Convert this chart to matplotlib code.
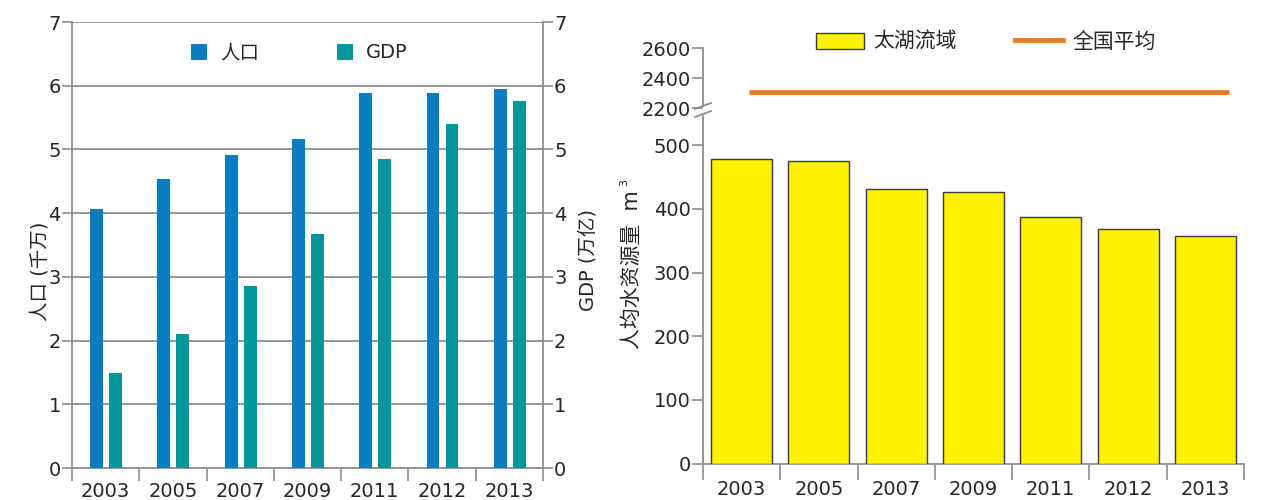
import matplotlib
matplotlib.use("Agg")
import matplotlib.pyplot as plt
import numpy as np
from matplotlib.lines import Line2D
from matplotlib.patches import Patch

plt.rcParams["font.family"] = ["DejaVu Sans", "Noto Sans CJK SC"]

W, H = 1266, 500

BLUE = "#0a7cc2"
TEAL = "#00969c"
YELLOW = "#fff200"
ORANGE = "#ee7b1c"
GRAY = "#8e8e8e"
INK = "#262626"

# data
years = ["2003", "2005", "2007", "2009", "2011", "2012", "2013"]
population = [4.07, 4.54, 4.91, 5.16, 5.89, 5.89, 5.95]      # 千万
gdp = [1.49, 2.10, 2.86, 3.67, 4.85, 5.40, 5.76]             # 万亿
taihu_water = [478, 475, 432, 426, 388, 369, 357]            # m3 per person
national_water = 2310


def box(left, top, right, bottom):
    return [left / W, 1 - bottom / H, (right - left) / W, (bottom - top) / H]


def category_axis(ax, n, labels, tick_len, pad):
    ax.set_xlim(-0.5, n - 0.5)
    ax.set_xticks(np.arange(-0.5, n, 1))
    ax.tick_params(axis="x", which="major", length=tick_len, width=1.2,
                   color=GRAY, labelbottom=False)
    ax.set_xticks(np.arange(n), minor=True)
    ax.set_xticklabels(labels, minor=True)
    ax.tick_params(axis="x", which="minor", length=0, pad=pad,
                   labelsize=14, labelcolor=INK)


fig = plt.figure(figsize=(W / 100, H / 100), dpi=100)
x = np.arange(len(years))

# left: population and GDP
ax1 = fig.add_axes(box(72, 22, 543, 468))
ax1.bar(x - 0.135, population, 0.19, color=BLUE, zorder=3)
ax1.set_ylim(0, 7)
ax1.set_yticks(range(8))
ax1.grid(axis="y", color=GRAY, linewidth=1.3)
ax1.set_axisbelow(True)
category_axis(ax1, len(years), years, 9.5, 10)
ax1.tick_params(axis="y", length=7, width=1.2, color=GRAY, pad=1,
                labelsize=14, labelcolor=INK)
ax1.spines["top"].set_visible(False)
for side in ["left", "right", "bottom"]:
    ax1.spines[side].set_color(GRAY)
    ax1.spines[side].set_linewidth(1.3)

ax2 = ax1.twinx()
ax2.bar(x + 0.148, gdp, 0.19, color=TEAL, zorder=3)
ax2.set_ylim(0, 7)
ax2.set_yticks(range(8))
ax2.tick_params(axis="y", length=7, width=1.2, color=GRAY, pad=1,
                labelsize=14, labelcolor=INK)
for spine in ax2.spines.values():
    spine.set_visible(False)

fig.text(40 / W, 1 - 271 / H, "人口 (千万)", rotation=90, ha="center",
         va="center", fontsize=14, color=INK)
fig.text(588 / W, 1 - 260 / H, "GDP (万亿)", rotation=90, ha="center",
         va="center", fontsize=14, color=INK)

fig.legend([Patch(facecolor=BLUE), Patch(facecolor=TEAL)], ["人口", "GDP"],
           loc="center", bbox_to_anchor=(299 / W, 1 - 53 / H), ncol=2,
           frameon=False, fontsize=14, handlelength=0.85, handleheight=0.85,
           handletextpad=0.65, columnspacing=4.0, labelcolor=INK)

# right: per-capita water, with a broken y axis
ax3 = fig.add_axes(box(703, 116, 1244, 463.5))
ax3.bar(x, taihu_water, 0.79, color=YELLOW, edgecolor="#3a3a3a",
        linewidth=1.0, zorder=3)
ax3.set_ylim(0, 546)
ax3.set_yticks(range(0, 501, 100))
category_axis(ax3, len(years), years, 11.5, 12)
ax3.tick_params(axis="y", length=8, width=1.2, color=GRAY, pad=1,
                labelsize=14, labelcolor=INK)
ax3.spines[["top", "right"]].set_visible(False)
for side in ["left", "bottom"]:
    ax3.spines[side].set_color(GRAY)
    ax3.spines[side].set_linewidth(1.3)

ax4 = fig.add_axes(box(703, 48, 1244, 108))
ax4.patch.set_visible(False)
ax4.set_xlim(-0.5, len(years) - 0.5)
ax4.set_ylim(2200, 2600)
ax4.set_yticks([2200, 2400, 2600])
ax4.set_xticks([])
ax4.hlines(national_water, 0.1, 6.3, color=ORANGE, linewidth=3.5)
ax4.tick_params(axis="y", length=8, width=1.2, color=GRAY, pad=1,
                labelsize=14, labelcolor=INK)
ax4.spines[["top", "right", "bottom"]].set_visible(False)
ax4.spines["left"].set_color(GRAY)
ax4.spines["left"].set_linewidth(1.3)
ax4.spines["left"].set_bounds(2213, 2600)

# break marks on the y axis
for y0, y1 in [(109, 103), (117, 111)]:
    fig.add_artist(Line2D([695 / W, 711 / W], [1 - y0 / H, 1 - y1 / H],
                          color=GRAY, linewidth=1.3, transform=fig.transFigure))

fig.text(632 / W, 1 - 270 / H, "人均水资源量  m", rotation=90, ha="center",
         va="center", fontsize=15, color=INK)
fig.text(624 / W, 1 - 183 / H, "3", rotation=90, ha="center",
         va="center", fontsize=8, color=INK)

fig.legend([Patch(facecolor=YELLOW, edgecolor="#3a3a3a", linewidth=1.0),
            Line2D([], [], color=ORANGE, linewidth=3.5)],
           ["太湖流域", "全国平均"],
           loc="center", bbox_to_anchor=(986 / W, 1 - 42 / H), ncol=2,
           frameon=False, fontsize=15, handlelength=2.3, handleheight=0.8,
           handletextpad=0.45, columnspacing=2.8, labelcolor=INK)

fig.savefig("out.png", dpi=100)
